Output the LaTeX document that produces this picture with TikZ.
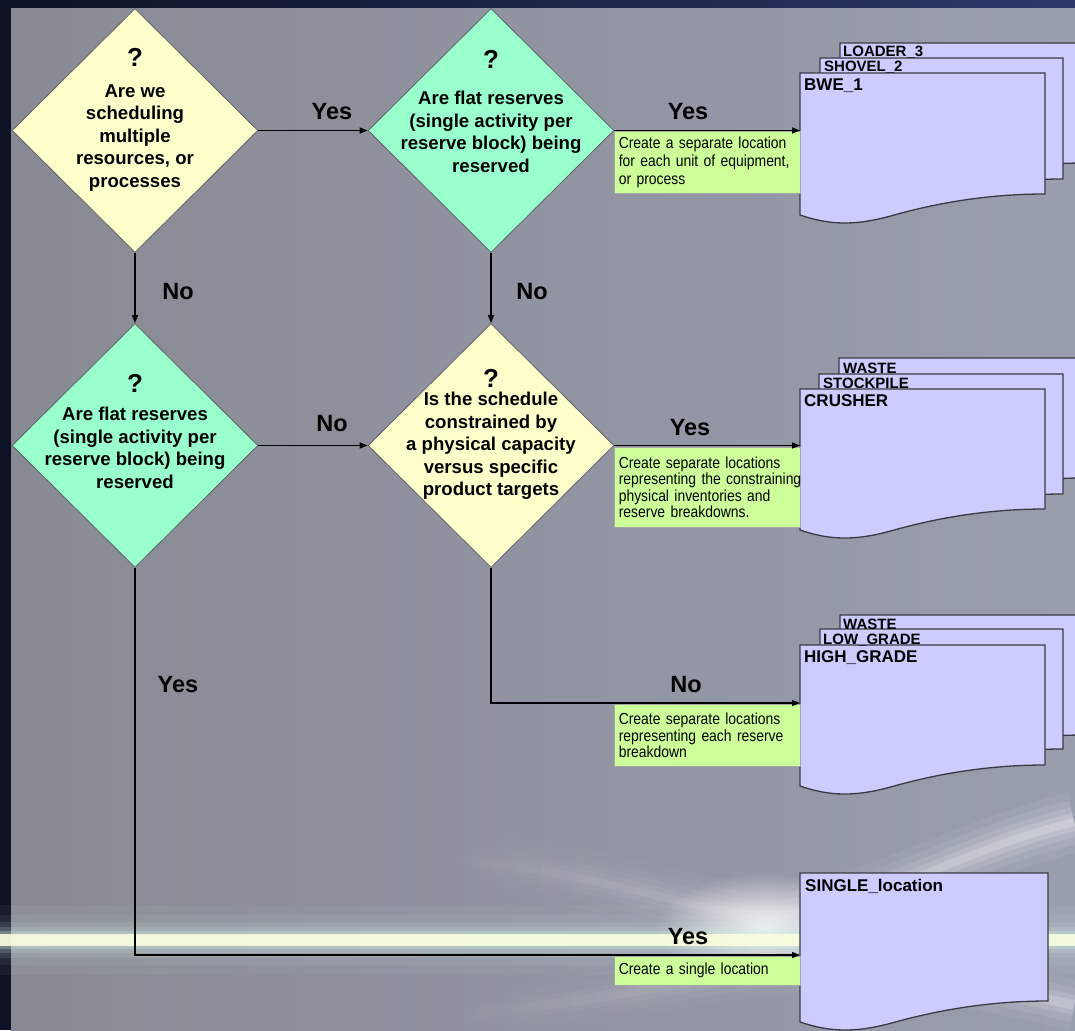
\documentclass[tikz,border=0pt]{standalone}
\usepackage{fontspec}
\setmainfont{Liberation Sans}
\newfontfamily\narrowfont[FakeStretch=0.87]{Liberation Sans}
\usetikzlibrary{shapes.geometric,arrows.meta,fadings}

\definecolor{navy}{HTML}{0D1124}
\definecolor{navyhi}{HTML}{2C3868}
\definecolor{panelL}{HTML}{888A93}
\definecolor{panelR}{HTML}{999EAE}
\definecolor{qyellow}{HTML}{FFFFCC}
\definecolor{qgreen}{HTML}{99FFCC}
\definecolor{notegreen}{HTML}{CCFF99}
\definecolor{pagelav}{HTML}{CCCCFF}
\definecolor{edgegray}{HTML}{3A3A42}
\definecolor{streakglow}{HTML}{D8F0EC}
\definecolor{streakcore}{HTML}{F8FFDE}
\definecolor{swooshblue}{HTML}{B8C8F0}

\tikzfading[name=fromleft, left color=transparent!100, right color=transparent!0]
\tikzfading[name=bothends, left color=transparent!100, middle color=transparent!0, right color=transparent!100]
\tikzfading[name=softspot, inner color=transparent!0, outer color=transparent!100]

% a sheet with a wavy lower edge: x, y (top left), width, height of right edge
\newcommand\docsheet[4]{%
  \filldraw[sheet] (#1,#2) -- ({#1+#3},#2) -- ({#1+#3},{#2+#4})
    .. controls ({#1+0.78*#3},{#2+#4}) and ({#1+0.57*#3},{#2+#4+8}) .. ({#1+0.37*#3},{#2+#4+22})
    .. controls ({#1+0.22*#3},{#2+#4+32}) and ({#1+0.12*#3},{#2+#4+31}) .. (#1,{#2+#4+21}) -- cycle;}

\tikzset{
  decision/.style={diamond, draw=edgegray!80, line width=0.8pt, minimum width=246pt,
    minimum height=244pt, inner sep=0pt},
  qmark/.style={font=\bfseries\fontsize{26}{26}\selectfont},
  qtext/.style={font=\bfseries\fontsize{18.6}{22.5}\selectfont, align=center},
  yn/.style={font=\bfseries\fontsize{23.5}{24}\selectfont},
  flow/.style={line width=1.4pt, draw=black, -{Triangle[length=8pt,width=6pt]}},
  note/.style={fill=notegreen, draw=gray!70, line width=0.6pt, anchor=north west,
    minimum width=186pt, inner xsep=4.5pt, inner ysep=0pt, text width=177pt, align=left,
    font=\narrowfont\fontsize{16}{18}\selectfont},
  sheet/.style={fill=pagelav, draw=edgegray, line width=1.3pt},
  area/.style={anchor=north west, inner sep=0pt, minimum width=245pt, minimum height=142pt},
  frontlbl/.style={anchor=base west, inner sep=0pt, font=\bfseries\fontsize{17}{17}\selectfont},
  backlbl/.style={anchor=base west, inner sep=0pt, font=\bfseries\fontsize{15}{15}\selectfont},
}

\begin{document}
\begin{tikzpicture}[x=1pt,y=-1pt]
\useasboundingbox (0,0) rectangle (1075,1030);
\begin{scope}
\clip (0,0) rectangle (1075,1030);

% frame and backdrop
\fill[navy] (0,0) rectangle (1075,1030);
\shade[left color=navy, right color=navyhi] (0,0) rectangle (1075,9);
\shade[left color=panelL, right color=panelR] (11,9) rectangle (1075,1030);

% soft light swooshes in the lower part
\foreach \w/\o in {60/0.07,44/0.09,30/0.12,18/0.16,8/0.22}
  \draw[line width=\w pt, color=white, opacity=\o, path fading=fromleft]
    (430,858) .. controls (600,868) and (700,918) .. (780,915)
    .. controls (880,905) and (960,850) .. (1075,822);
\foreach \w/\o in {50/0.06,34/0.09,20/0.12,10/0.16}
  \draw[line width=\w pt, color=swooshblue, opacity=\o, path fading=bothends]
    (380,862) .. controls (480,860) and (580,880) .. (680,905);
\foreach \w/\o in {50/0.06,34/0.09,20/0.12,10/0.18}
  \draw[line width=\w pt, color=white, opacity=\o, path fading=fromleft]
    (420,1018) .. controls (600,1005) and (700,975) .. (790,968)
    .. controls (900,962) and (1000,990) .. (1075,1005);
\fill[white, opacity=0.85, path fading=softspot]
  (765,928) ellipse [x radius=110, y radius=55];

% main horizontal streak
\foreach \w/\o in {70/0.05,50/0.07,36/0.1,26/0.16,18/0.28}
  \draw[line width=\w pt, color=streakglow, opacity=\o] (0,940) -- (1075,940);
\draw[line width=12pt, color=streakcore, opacity=0.9] (0,940) -- (1075,940);

% decisions
\node[decision, fill=qyellow] (d1) at (135,130.5) {};
\node[decision, fill=qgreen]  (d2) at (491,130.5) {};
\node[decision, fill=qgreen]  (d3) at (135,445.5) {};
\node[decision, fill=qyellow] (d4) at (491,445.5) {};

\node[qmark] (d1q) at (135,57) {?};
\node[qtext] (d1t) at (135,138) {Are we\\scheduling\\multiple\\resources, or\\processes};
\node[qmark] (d2q) at (491,59) {?};
\node[qtext] (d2t) at (491,132) {Are flat reserves\\(single activity per\\reserve block) being\\reserved};
\node[qmark] (d3q) at (135,383) {?};
\node[qtext] (d3t) at (135,448) {Are flat reserves\\(single activity per\\reserve block) being\\reserved};
\node[qmark] (d4q) at (491,378) {?};
\node[qtext] (d4t) at (491,446) {Is the schedule\\constrained by\\a physical capacity\\versus specific\\product targets};

% location sheets, back to front
\docsheet{840}{43}{245}{120}
\docsheet{820}{58}{243}{121}
\docsheet{800}{73}{245}{121}
\node[backlbl] (l3) at (843,57) {LOADER\_3};
\node[backlbl] (s2) at (824,72) {SHOVEL\_2};
\node[frontlbl] (b1) at (804,91) {BWE\_1};
\node[area] (bwe) at (800,73) {};

\docsheet{839}{358}{245}{120}
\docsheet{819}{374}{244}{120}
\docsheet{800}{389}{245}{120}
\node[backlbl] (w1) at (843,373) {WASTE};
\node[backlbl] (sp) at (823,388) {STOCKPILE};
\node[frontlbl] (cr) at (804,406) {CRUSHER};
\node[area] (crusher) at (800,389) {};

\docsheet{840}{615}{245}{120}
\docsheet{820}{629}{243}{120}
\docsheet{800}{645}{245}{120}
\node[backlbl] (w2) at (843,629) {WASTE};
\node[backlbl] (lg) at (823,644) {LOW\_GRADE};
\node[frontlbl] (hg) at (804,662) {HIGH\_GRADE};
\node[area] (highgrade) at (800,645) {};

\docsheet{800}{873}{248}{128}
\node[frontlbl] (sl) at (805,891) {SINGLE\_location};
\node[area] (single) at (800,873) {};

\coordinate (hgin) at (800,703);
\coordinate (slin) at (800,955);

% notes under the arrows
\node[note, minimum height=62pt] (n1) at (614,131)
  {Create a separate location\\for each unit of equipment,\\or process};
\node[note, minimum height=80pt, font=\narrowfont\fontsize{16}{16.6}\selectfont] (n2) at (614,447)
  {Create separate locations\\\mbox{representing the constraining}\\physical inventories and\\reserve breakdowns.};
\node[note, minimum height=62pt, font=\narrowfont\fontsize{16}{16.6}\selectfont] (n3) at (614,704)
  {Create separate locations\\representing each reserve\\breakdown};
\node[note, minimum height=29pt] (n4) at (614,956) {Create a single location};

% connectors
\draw[flow] (d1.east) -- (d2.west);
\draw[flow] (d2.east) -- (d2.east -| bwe.west);
\draw[flow] (d1.south) -- (d3.north);
\draw[flow] (d2.south) -- (d4.north);
\draw[flow] (d3.east) -- (d4.west);
\draw[flow] (d4.east) -- (d4.east -| crusher.west);
\draw[flow] (d4.south) |- (hgin);
\draw[flow] (d3.south) |- (slin);

% branch labels
\node[yn] (y1) at (332,112) {Yes};
\node[yn] (y2) at (688,112) {Yes};
\node[yn] (n5) at (178,292) {No};
\node[yn] (n6) at (532,292) {No};
\node[yn] (n7) at (332,424) {No};
\node[yn] (y3) at (690,428) {Yes};
\node[yn] (n8) at (686,685) {No};
\node[yn] (y4) at (178,685) {Yes};
\node[yn] (y5) at (688,937) {Yes};
\end{scope}
\end{tikzpicture}
\end{document}
